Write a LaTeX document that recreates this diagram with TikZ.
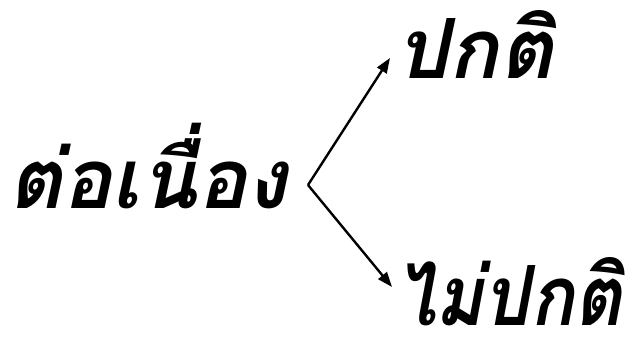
\documentclass[tikz,border=0pt]{standalone}
\usepackage{fontspec}
\newfontfamily\thaifont[Script=Thai]{Loma}
\usetikzlibrary{arrows.meta}
\begin{document}
\begin{tikzpicture}[x=1pt,y=-1pt,
  lbl/.style={inner sep=0pt,font=\thaifont\bfseries\itshape\fontsize{83}{90}\selectfont},
  arr/.style={-{Triangle[length=15pt,width=11pt]},line width=2.4pt}]
\useasboundingbox (0,0) rectangle (635,340);
\node[lbl,anchor=base west] (src) at (8,208) {ต่อเนื่อง};
\node[lbl,anchor=base west] (up) at (396,78) {ปกติ};
\node[lbl,anchor=base east,xscale=0.88,text depth=0pt] (dn) at (622,325) {ไม่ปกติ};
\coordinate (v) at (308,185);
\coordinate (t1) at (390,58);
\coordinate (t2) at (392,287);
\draw[arr] (v) -- (t1);
\draw[arr] (v) -- (t2);
\end{tikzpicture}
\end{document}
